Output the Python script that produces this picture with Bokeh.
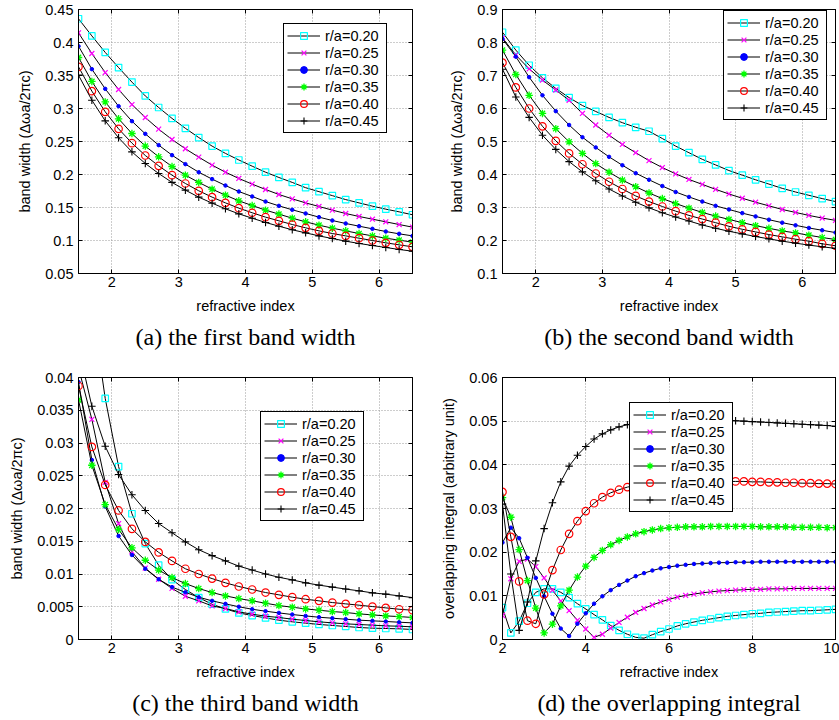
from bokeh.plotting import figure
from bokeh.models import (Range1d, FixedTicker, CustomJSTickFormatter, Legend,
                          LegendItem, Title, LinearAxis)
from bokeh.layouts import column, row
from bokeh.embed import file_html
from bokeh.resources import INLINE

# ---------------- data ----------------
labels = ["r/a=0.20", "r/a=0.25", "r/a=0.30", "r/a=0.35", "r/a=0.40", "r/a=0.45"]

x_band = [1.5, 1.7, 1.9, 2.1, 2.3, 2.5, 2.7, 2.9, 3.1, 3.3, 3.5, 3.7, 3.9,
          4.1, 4.3, 4.5, 4.7, 4.9, 5.1, 5.3, 5.5, 5.7, 5.9, 6.1, 6.3, 6.5]

x_overlap = [2.0, 2.2, 2.4, 2.6, 2.8, 3.0, 3.2, 3.4, 3.6, 3.8, 4.0, 4.2, 4.4,
             4.6, 4.8, 5.0, 5.2, 5.4, 5.6, 5.8, 6.0, 6.2, 6.4, 6.6, 6.8, 7.0,
             7.2, 7.4, 7.6, 7.8, 8.0, 8.2, 8.4, 8.6, 8.8, 9.0, 9.2, 9.4, 9.6,
             9.8, 10.0]

# (a) first band width
a_020 = [0.436, 0.410, 0.385, 0.362, 0.340, 0.319, 0.3015, 0.285, 0.270, 0.256, 0.243, 0.232, 0.222,
         0.2126, 0.2035, 0.1955, 0.188, 0.180, 0.174, 0.168, 0.162, 0.157, 0.152, 0.1475, 0.1434, 0.139]
a_025 = [0.4146, 0.3833, 0.3545, 0.3288, 0.306, 0.2864, 0.2687, 0.253, 0.239, 0.2263, 0.2142, 0.2035, 0.194,
         0.1854, 0.1773, 0.1697, 0.1631, 0.157, 0.1515, 0.146, 0.1409, 0.1364, 0.1323, 0.1283, 0.1242, 0.1202]
a_030 = [0.3944, 0.3596, 0.3298, 0.3035, 0.2808, 0.2616, 0.2445, 0.2293, 0.2157, 0.2035, 0.193, 0.1833, 0.1742,
         0.1667, 0.159, 0.1525, 0.1465, 0.141, 0.1354, 0.1303, 0.1258, 0.1217, 0.1177, 0.1136, 0.1101, 0.107]
a_035 = [0.3773, 0.341, 0.310, 0.2844, 0.2621, 0.243, 0.2268, 0.2121, 0.199, 0.188, 0.1778, 0.1687, 0.1601,
         0.153, 0.146, 0.14, 0.1338, 0.1283, 0.1232, 0.1187, 0.1146, 0.1106, 0.107, 0.1035, 0.1005, 0.0975]
a_040 = [0.3631, 0.3263, 0.295, 0.2692, 0.2475, 0.2288, 0.2131, 0.199, 0.1864, 0.1753, 0.1657, 0.157, 0.149,
         0.142, 0.1354, 0.1298, 0.1242, 0.1192, 0.1146, 0.1106, 0.107, 0.1035, 0.1, 0.0965, 0.0934, 0.0904]
a_045 = [0.3505, 0.3126, 0.2813, 0.2556, 0.2343, 0.2167, 0.2015, 0.188, 0.1763, 0.1657, 0.1566, 0.148, 0.1404,
         0.1338, 0.1273, 0.1217, 0.1162, 0.1116, 0.107, 0.103, 0.099, 0.0955, 0.0924, 0.0894, 0.0864, 0.0838]

# (b) second band width
b_020 = [0.831, 0.777, 0.731, 0.693, 0.661, 0.633, 0.609, 0.591, 0.573, 0.557, 0.543, 0.531, 0.509,
         0.486, 0.466, 0.446, 0.429, 0.412, 0.398, 0.384, 0.371, 0.358, 0.347, 0.337, 0.327, 0.318]
b_025 = [0.814, 0.762, 0.720, 0.686, 0.656, 0.625, 0.585, 0.550, 0.519, 0.491, 0.466, 0.442, 0.421,
         0.402, 0.385, 0.370, 0.355, 0.341, 0.328, 0.316, 0.305, 0.294, 0.285, 0.276, 0.268, 0.261]
b_030 = [0.811, 0.757, 0.695, 0.640, 0.592, 0.550, 0.513, 0.482, 0.4535, 0.428, 0.404, 0.384, 0.365,
         0.347, 0.332, 0.318, 0.305, 0.294, 0.283, 0.273, 0.263, 0.254, 0.246, 0.238, 0.231, 0.224]
b_035 = [0.777, 0.703, 0.640, 0.585, 0.539, 0.499, 0.464, 0.433, 0.407, 0.383, 0.363, 0.344, 0.327,
         0.312, 0.298, 0.285, 0.274, 0.264, 0.254, 0.245, 0.237, 0.229, 0.223, 0.216, 0.209, 0.203]
b_040 = [0.739, 0.664, 0.600, 0.546, 0.502, 0.464, 0.431, 0.403, 0.378, 0.356, 0.335, 0.318, 0.303,
         0.289, 0.276, 0.265, 0.254, 0.243, 0.234, 0.226, 0.218, 0.211, 0.204, 0.198, 0.190, 0.184]
b_045 = [0.719, 0.635, 0.573, 0.519, 0.476, 0.439, 0.408, 0.381, 0.356, 0.335, 0.316, 0.299, 0.284,
         0.271, 0.259, 0.247, 0.237, 0.228, 0.220, 0.212, 0.205, 0.198, 0.192, 0.186, 0.181, 0.176]

# (c) third band width
c_020 = [0.068, 0.051, 0.0368, 0.0264, 0.0192, 0.01465, 0.01134, 0.00915, 0.00763, 0.0064, 0.00538, 0.00467, 0.00406,
         0.00366, 0.0033, 0.00295, 0.0027, 0.0025, 0.0023, 0.00214, 0.00199, 0.00183, 0.00173, 0.00168, 0.00163, 0.00153]
c_025 = [0.0415, 0.0336, 0.0240, 0.0177, 0.0134, 0.0109, 0.0092, 0.0078, 0.0066, 0.0059, 0.00513, 0.00473, 0.00422,
         0.00386, 0.00356, 0.00336, 0.0031, 0.0029, 0.0027, 0.00254, 0.00239, 0.00229, 0.00219, 0.00208, 0.00203, 0.00193]
c_030 = [0.0393, 0.0274, 0.0203, 0.0158, 0.0129, 0.0108, 0.0092, 0.008, 0.0072, 0.00646, 0.0059, 0.00544, 0.005,
         0.00462, 0.00432, 0.00406, 0.00381, 0.0036, 0.0034, 0.00325, 0.0031, 0.00295, 0.00285, 0.00275, 0.00264, 0.00254]
c_035 = [0.0366, 0.0266, 0.0206, 0.0168, 0.0140, 0.0121, 0.0106, 0.00945, 0.00854, 0.00778, 0.00717, 0.00666, 0.00625,
         0.0059, 0.00554, 0.00518, 0.00493, 0.00467, 0.00447, 0.00427, 0.00412, 0.00391, 0.00376, 0.0036, 0.0035, 0.00336]
c_040 = [0.0387, 0.0294, 0.0236, 0.0197, 0.0169, 0.0149, 0.0133, 0.012, 0.0108, 0.01, 0.0093, 0.00865, 0.00809,
         0.00763, 0.00717, 0.00682, 0.00646, 0.00615, 0.0059, 0.00564, 0.00544, 0.00524, 0.00503, 0.00483, 0.00462, 0.00447]
c_045 = [0.0446, 0.0356, 0.0295, 0.0252, 0.0221, 0.0197, 0.0177, 0.0163, 0.0149, 0.0137, 0.0128, 0.0120, 0.0112,
         0.0106, 0.0100, 0.0095, 0.0091, 0.00865, 0.0083, 0.0080, 0.0077, 0.00743, 0.00712, 0.00692, 0.00666, 0.0064]

# (d) overlapping integral
d_020 = [0.0073, 0.0015, 0.0042, 0.0083, 0.0108, 0.0116, 0.0116, 0.0108, 0.0096, 0.0082, 0.0070, 0.0057, 0.0045,
         0.0032, 0.0021, 0.0012, 0.0005, 0.0003, 0.0011, 0.0018, 0.0024, 0.0031, 0.0036, 0.0040, 0.0044, 0.0047,
         0.0050, 0.0053, 0.0055, 0.0057, 0.0059, 0.0060, 0.0062, 0.0063, 0.0064, 0.0065, 0.0066, 0.0066, 0.0067,
         0.0068, 0.0069]
d_025 = [0.0055, 0.0139, 0.0179, 0.0184, 0.0167, 0.0141, 0.0113, 0.0088, 0.0066, 0.0044, 0.0024, 0.0005, 0.0012,
         0.0026, 0.0039, 0.0051, 0.0062, 0.0071, 0.0079, 0.0086, 0.0092, 0.0097, 0.0101, 0.0104, 0.0107, 0.0109,
         0.0111, 0.0112, 0.0113, 0.0114, 0.0115, 0.0115, 0.0116, 0.0116, 0.0116, 0.0117, 0.0117, 0.0117, 0.0117,
         0.0117, 0.0117]
d_030 = [0.0222, 0.0256, 0.0232, 0.0187, 0.0141, 0.0099, 0.0059, 0.0025, 0.0008, 0.0036, 0.0060, 0.0082, 0.0099,
         0.0113, 0.0125, 0.0135, 0.0145, 0.0152, 0.0158, 0.0163, 0.0166, 0.0169, 0.0171, 0.0173, 0.0174, 0.0175,
         0.0176, 0.0176, 0.0177, 0.0177, 0.0177, 0.0178, 0.0178, 0.0178, 0.0178, 0.0178, 0.0178, 0.0178, 0.0178,
         0.0178, 0.0178]
d_035 = [0.0325, 0.0280, 0.0206, 0.0135, 0.0072, 0.0015, 0.0035, 0.0077, 0.0113, 0.0143, 0.0168, 0.0188, 0.0204,
         0.0217, 0.0227, 0.0235, 0.0242, 0.0247, 0.0251, 0.0254, 0.0256, 0.0257, 0.0258, 0.0258, 0.0258, 0.0259,
         0.0259, 0.0259, 0.0259, 0.0259, 0.0259, 0.0258, 0.0258, 0.0258, 0.0258, 0.0257, 0.0257, 0.0257, 0.0257,
         0.0256, 0.0256]
d_040 = [0.0338, 0.0235, 0.0133, 0.0043, 0.0036, 0.0103, 0.0159, 0.0205, 0.0242, 0.0271, 0.0294, 0.0312, 0.0326,
         0.0336, 0.0343, 0.0349, 0.0353, 0.0356, 0.0358, 0.0360, 0.0361, 0.0362, 0.0362, 0.0363, 0.0363, 0.0363,
         0.0363, 0.0362, 0.0362, 0.0362, 0.0361, 0.0361, 0.0360, 0.0360, 0.0359, 0.0359, 0.0358, 0.0358, 0.0357,
         0.0357, 0.0356]
d_045 = [0.0310, 0.0150, 0.0021, 0.0086, 0.0180, 0.0254, 0.0313, 0.0361, 0.0397, 0.0422, 0.0442, 0.0459, 0.0471,
         0.0480, 0.0487, 0.0492, 0.0496, 0.0499, 0.0501, 0.0502, 0.0503, 0.0503, 0.0503, 0.0503, 0.0503, 0.0503,
         0.0502, 0.0502, 0.0501, 0.0500, 0.0499, 0.0498, 0.0497, 0.0496, 0.0495, 0.0494, 0.0493, 0.0492, 0.0491,
         0.0490, 0.0488]

# ticks
ticks_x_band = [2, 3, 4, 5, 6]
ticks_y_a = [0.05, 0.1, 0.15, 0.2, 0.25, 0.3, 0.35, 0.4, 0.45]
ticks_y_b = [0.1, 0.2, 0.3, 0.4, 0.5, 0.6, 0.7, 0.8, 0.9]
ticks_y_c = [0, 0.005, 0.01, 0.015, 0.02, 0.025, 0.03, 0.035, 0.04]
ticks_x_d = [2, 4, 6, 8, 10]
ticks_y_d = [0, 0.01, 0.02, 0.03, 0.04, 0.05, 0.06]

# ---------------- style ----------------
SANS = "Liberation Sans"
SERIF = "Liberation Serif"
FS = "14.5px"
marker_styles = [
    dict(marker="square", size=6.5, line_color="#00FFFF", fill_color=None, lw=1.2),
    dict(marker="x", size=7, line_color="#FF00FF", fill_color=None, lw=1.2),
    dict(marker="circle", size=3.5, line_color="#0000FF", fill_color="#0000FF", lw=1),
    dict(marker="asterisk", size=7.5, line_color="#00FF00", fill_color=None, lw=1.3),
    dict(marker="circle", size=7.5, line_color="#FF0000", fill_color=None, lw=1.2),
    dict(marker="cross", size=7.5, line_color="#000000", fill_color=None, lw=1.1),
]

fmt_code = "return String(parseFloat(tick.toPrecision(12)));"


def mirror_axis(p, ticks, side):
    ax = LinearAxis(ticker=FixedTicker(ticks=ticks),
                    formatter=CustomJSTickFormatter(code="return '';"))
    ax.major_tick_in = 4
    ax.major_tick_out = 0
    ax.minor_tick_in = 0
    ax.minor_tick_out = 0
    ax.major_label_standoff = 0
    ax.major_label_text_font_size = "0px"
    ax.axis_line_color = "black"
    ax.major_tick_line_color = "black"
    p.add_layout(ax, side)


def make_panel(width, height, bl, br, bt, bb, xr, yr, xticks, yticks,
               ylabel, caption, xs, series, legend_xy):
    frame_h = height - bt - bb
    p = figure(width=width, height=height, x_range=Range1d(*xr), y_range=Range1d(*yr),
               output_backend="svg", toolbar_location=None,
               min_border_left=bl, min_border_right=br,
               min_border_top=bt, min_border_bottom=bb)
    p.background_fill_color = "white"
    p.border_fill_color = "white"
    p.outline_line_color = "black"
    p.outline_line_width = 1
    p.outline_line_alpha = 1

    p.xaxis.ticker = FixedTicker(ticks=xticks)
    p.yaxis.ticker = FixedTicker(ticks=yticks)
    p.xaxis.formatter = CustomJSTickFormatter(code=fmt_code)
    p.yaxis.formatter = CustomJSTickFormatter(code=fmt_code)
    p.xaxis.axis_label = "refractive index"
    p.yaxis.axis_label = ylabel
    for ax in (p.xaxis[0], p.yaxis[0]):
        ax.major_tick_in = 4
        ax.major_tick_out = 0
        ax.minor_tick_in = 0
        ax.minor_tick_out = 0
        ax.axis_line_color = "black"
        ax.major_tick_line_color = "black"
        ax.major_label_text_font = SANS
        ax.major_label_text_font_size = FS
        ax.major_label_text_color = "black"
        ax.axis_label_text_font = SANS
        ax.axis_label_text_font_size = FS
        ax.axis_label_text_font_style = "normal"
        ax.axis_label_text_color = "black"
    p.xaxis.major_label_standoff = 3
    p.xaxis.axis_label_standoff = 8
    p.yaxis.major_label_standoff = 5
    p.yaxis.axis_label_standoff = 9

    mirror_axis(p, xticks, "above")
    mirror_axis(p, yticks, "right")

    for g in (p.xgrid[0], p.ygrid[0]):
        g.grid_line_color = "#9a9a9a"
        g.grid_line_dash = "1 2"
        g.grid_line_width = 1

    items = []
    for lab, ys, ms in zip(labels, series, marker_styles):
        ln = p.line(xs, ys, line_color="black", line_width=1)
        sc = p.scatter(xs, ys, marker=ms["marker"], size=ms["size"],
                       line_color=ms["line_color"], fill_color=ms["fill_color"],
                       line_width=ms["lw"])
        items.append(LegendItem(label=lab, renderers=[ln, sc]))

    lx, ltop = legend_xy
    leg_h = 108
    legend = Legend(items=items, location=(lx, frame_h - ltop - leg_h),
                    padding=3, spacing=0, margin=0,
                    glyph_height=17, glyph_width=33, label_height=17,
                    label_width=58, label_standoff=5,
                    border_line_color="black", border_line_width=1.5,
                    border_line_alpha=1,
                    background_fill_color="white", background_fill_alpha=1,
                    label_text_font=SANS, label_text_font_size=FS,
                    label_text_color="black")
    p.add_layout(legend)

    cap = Title(text=caption, align="center", text_font=SERIF,
                text_font_size="24px", text_font_style="normal",
                text_color="black")
    p.add_layout(cap, "below")
    return p


ylab_band = "band width (\u0394\u03c9a/2\u03c0c)"

pa = make_panel(420, 362, 78, 8, 9, 89, (1.5, 6.5), (0.05, 0.45),
                ticks_x_band, ticks_y_a, ylab_band, "(a) the first band width",
                x_band, [a_020, a_025, a_030, a_035, a_040, a_045], (205, 16))
pb = make_panel(419, 362, 82, 4, 9, 89, (1.5, 6.5), (0.1, 0.9),
                ticks_x_band, ticks_y_b, ylab_band, "(b) the second band width",
                x_band, [b_020, b_025, b_030, b_035, b_040, b_045], (221, 3))
pc = make_panel(420, 358, 78, 8, 15, 81, (1.5, 6.5), (0.0, 0.04),
                ticks_x_band, ticks_y_c, ylab_band, "(c) the third band width",
                x_band, [c_020, c_025, c_030, c_035, c_040, c_045], (182, 36))
pd = make_panel(419, 358, 82, 4, 15, 81, (2.0, 10.0), (0.0, 0.06),
                ticks_x_d, ticks_y_d, "overlapping integral (arbitrary unit)",
                "(d) the overlapping integral",
                x_overlap, [d_020, d_025, d_030, d_035, d_040, d_045], (127, 27))

layout = column(row(pa, pb), row(pc, pd))

with open("out.html", "w") as f:
    f.write(file_html(layout, INLINE))
